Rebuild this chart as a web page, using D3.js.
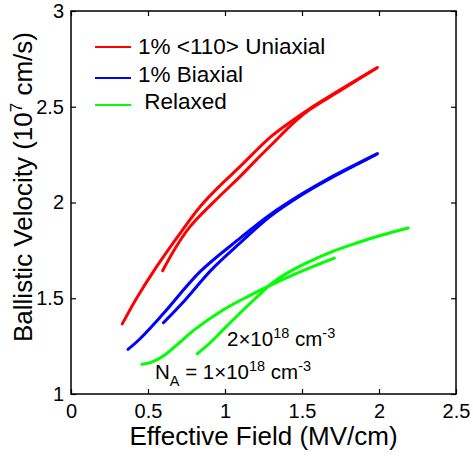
<!DOCTYPE html>
<html>
<head>
<meta charset="utf-8">
<script src="https://cdn.jsdelivr.net/npm/d3@7"></script>
<style>
  html,body{margin:0;padding:0;background:#fff;}
  svg{display:block;}
  text{font-family:"Liberation Sans", Arial, Helvetica, sans-serif;fill:#000;}
</style>
</head>
<body>
<svg id="chart" width="473" height="456"></svg>
<script>
// ---- data ----
const xTicks = [0, 0.5, 1, 1.5, 2, 2.5];
const yTicks = [1, 1.5, 2, 2.5, 3];

const uniAX = [0.333, 0.426, 0.556, 0.70, 0.838, 0.97, 1.097, 1.30, 1.45, 1.55, 1.75, 1.99];
const uniAY = [1.366, 1.50, 1.665, 1.83, 1.978, 2.09, 2.187, 2.345, 2.435, 2.49, 2.59, 2.705];
const uniBX = [0.595, 0.68, 0.773, 0.968, 1.097, 1.20, 1.30, 1.45, 1.55, 1.75, 1.98];
const uniBY = [1.644, 1.765, 1.874, 2.035, 2.135, 2.22, 2.30, 2.42, 2.485, 2.585, 2.70];

const biAX = [0.37, 0.45, 0.60, 0.84, 1.10, 1.29, 1.50, 1.66, 1.99];
const biAY = [1.233, 1.29, 1.42, 1.64, 1.815, 1.935, 2.045, 2.12, 2.255];
const biBX = [0.60, 0.74, 0.91, 1.10, 1.29, 1.50, 1.66, 1.98];
const biBY = [1.372, 1.49, 1.647, 1.79, 1.925, 2.04, 2.115, 2.25];

const relAX = [0.46, 0.52, 0.60, 0.70, 0.80, 0.99, 1.15, 1.30, 1.45, 1.60, 1.71];
const relAY = [1.155, 1.165, 1.198, 1.265, 1.335, 1.44, 1.51, 1.57, 1.625, 1.675, 1.71];
const relBX = [0.82, 0.90, 1.00, 1.12, 1.21, 1.30, 1.40, 1.53, 1.70, 1.86, 2.02, 2.19];
const relBY = [1.21, 1.265, 1.345, 1.44, 1.508, 1.575, 1.63, 1.685, 1.745, 1.79, 1.83, 1.867];

const legendLabels = ["1% <110> Uniaxial", "1% Biaxial", " Relaxed"];
const colors = ["#ff0000", "#0000ff", "#00ff00"];

// ---- layout ----
const L = 71, R = 456, T = 11, B = 394;
const svg = d3.select("#chart");
const x = d3.scaleLinear().domain([0, 2.5]).range([L, R]);
const y = d3.scaleLinear().domain([1, 3]).range([B, T]);

const zip = (xs, ys) => xs.map((v, i) => [v, ys[i]]);
const series = [
  {pts: zip(uniAX, uniAY), c: 0}, {pts: zip(uniBX, uniBY), c: 0},
  {pts: zip(biAX, biAY), c: 1}, {pts: zip(biBX, biBY), c: 1},
  {pts: zip(relAX, relAY), c: 2}, {pts: zip(relBX, relBY), c: 2}
];

const line = d3.line().x(d => x(d[0])).y(d => y(d[1])).curve(d3.curveCatmullRom.alpha(0.5));

svg.append("g").selectAll("path").data(series).join("path")
  .attr("d", d => line(d.pts))
  .attr("fill", "none")
  .attr("stroke", d => colors[d.c])
  .attr("stroke-width", 3)
  .attr("stroke-linecap", "round")
  .attr("stroke-linejoin", "round");

// ---- axes ----
const fmt = d => String(d);
const styleAxis = g => {
  g.select(".domain").remove();
  g.selectAll(".tick line").attr("stroke", "#000").attr("stroke-width", 1.2);
  g.selectAll(".tick text").style("font-size", "20px").attr("fill", "#000");
};
svg.append("g").attr("transform", `translate(0,${B})`)
  .call(d3.axisBottom(x).tickValues(xTicks).tickFormat(fmt).tickSizeInner(-5).tickSizeOuter(0).tickPadding(10))
  .call(styleAxis);
svg.append("g").attr("transform", `translate(0,${T})`)
  .call(d3.axisTop(x).tickValues(xTicks).tickFormat("").tickSizeInner(-5).tickSizeOuter(0))
  .call(styleAxis);
svg.append("g").attr("transform", `translate(${L},0)`)
  .call(d3.axisLeft(y).tickValues(yTicks).tickFormat(fmt).tickSizeInner(-5).tickSizeOuter(0).tickPadding(7))
  .call(styleAxis);
svg.append("g").attr("transform", `translate(${R},0)`)
  .call(d3.axisRight(y).tickValues(yTicks).tickFormat("").tickSizeInner(-5).tickSizeOuter(0))
  .call(styleAxis);

svg.append("rect").attr("x", L).attr("y", T).attr("width", R - L).attr("height", B - T)
  .attr("fill", "none").attr("stroke", "#000").attr("stroke-width", 1.5);

// ---- labels ----
svg.append("text").attr("x", (L + R) / 2).attr("y", 445).attr("text-anchor", "middle")
  .style("font-size", "26px").text("Effective Field (MV/cm)");

const yl = svg.append("text").attr("transform", "translate(32,187) rotate(-90)")
  .attr("text-anchor", "middle").style("font-size", "26px");
yl.append("tspan").text("Ballistic Velocity (10");
yl.append("tspan").attr("dy", -10).style("font-size", "17px").text("7");
yl.append("tspan").attr("dy", 10).text(" cm/s)");

// ---- legend ----
const legLineY = [47, 78, 105];
const legTextY = [54, 82, 109];
const lg = svg.append("g");
legendLabels.forEach((lab, i) => {
  lg.append("line").attr("x1", 95).attr("x2", 131).attr("y1", legLineY[i]).attr("y2", legLineY[i])
    .attr("stroke", colors[i]).attr("stroke-width", 2);
  lg.append("text").attr("x", 138).attr("y", legTextY[i]).style("font-size", "22.5px")
    .style("white-space", "pre").attr("xml:space", "preserve").text(lab);
});

// ---- annotations ----
const a1 = svg.append("text").attr("x", 227).attr("y", 346).style("font-size", "20.5px");
a1.append("tspan").text("2\u00d710");
a1.append("tspan").attr("dy", -8).style("font-size", "14.5px").text("18");
a1.append("tspan").attr("dy", 8).text(" cm");
a1.append("tspan").attr("dy", -8).style("font-size", "14.5px").text("-3");

const a2 = svg.append("text").attr("x", 155).attr("y", 379).style("font-size", "20.5px");
a2.append("tspan").text("N");
a2.append("tspan").attr("dy", 7).style("font-size", "14.5px").text("A");
a2.append("tspan").attr("dy", -7).text(" = 1\u00d710");
a2.append("tspan").attr("dy", -8).style("font-size", "14.5px").text("18");
a2.append("tspan").attr("dy", 8).text(" cm");
a2.append("tspan").attr("dy", -8).style("font-size", "14.5px").text("-3");
</script>
</body>
</html>
